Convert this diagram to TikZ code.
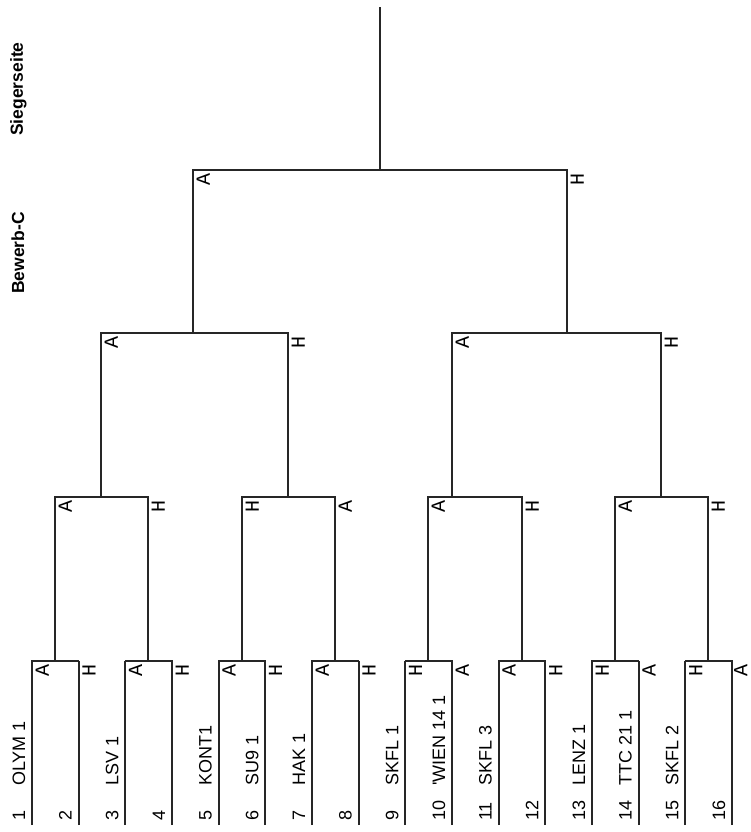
\documentclass[tikz,border=0pt]{standalone}
\usepackage{fontspec}
\setmainfont{Liberation Sans}
\newfontfamily\sidefam{Liberation Mono}
\begin{document}
\begin{tikzpicture}[x=1pt,y=-1pt,
	leg/.style={draw=black!85,line width=2.2pt},
	bar/.style={draw=black!85,line width=1.3pt,line cap=rect},
	side/.style={rotate=90,anchor=north east,inner sep=0pt,font=\sidefam\fontsize{20}{22}\selectfont},
	team/.style={rotate=90,anchor=base west,inner sep=0pt,font=\fontsize{18}{20}\selectfont},
	title/.style={rotate=90,anchor=base west,inner sep=0pt,font=\bfseries\fontsize{17.5}{20}\selectfont}]
	\useasboundingbox (0,0) rectangle (750,832);
	\node[title] (sieg) at (23,136) {Siegerseite};
	\node[title] (bew) at (24,294) {Bewerb-C};
	\foreach \i/\s/\d in {1/A/3.5,2/H/3.5,3/A/3.5,4/H/3.5,5/A/3.5,6/H/3.5,7/A/3.5,8/H/3.5,9/H/3.5,10/A/3.5,11/A/3.5,12/H/3.5,13/H/3.5,14/A/3.5,15/H/3.5,16/A/2} {
		\pgfmathsetmacro\xl{32+46.67*(\i-1)}
		\coordinate (p\i) at (\xl,825);
		\coordinate (q\i) at (\xl,661);
		\draw[leg] (p\i) -- (q\i);
		\node[side] (s\i) at ([shift={(\d,3.5)}]q\i) {\s};
		\node[team] (n\i) at ([shift={(-7,-4)}]p\i) {\i};
	}
	\foreach \a/\b in {1/2,3/4,5/6,7/8,9/10,11/12,13/14,15/16} \draw[bar] (q\a) -- (q\b);
	\foreach \i/\t in {1/OLYM 1,3/LSV 1,5/KONT1,6/SU9 1,7/HAK 1,9/SKFL 1,10/\textquotesingle WIEN 14 1,11/SKFL 3,13/LENZ 1,14/TTC 21 1,15/SKFL 2}
		\node[team] (m\i) at ([shift={(-7,-39)}]p\i) {\t};
	\foreach \x/\s [count=\k] in {55/A,148/H,242/H,335/A,428/A,522/H,615/A,708/H} {
		\coordinate (r\k) at (\x,661);
		\coordinate (t\k) at (\x,497);
		\draw[leg] (r\k) -- (t\k);
		\node[side] (u\k) at ([shift={(3.5,3.5)}]t\k) {\s};
	}
	\foreach \a/\b in {1/2,3/4,5/6,7/8} \draw[bar] (t\a) -- (t\b);
	\foreach \x/\s [count=\k] in {101/A,288/H,452/A,661/H} {
		\coordinate (v\k) at (\x,497);
		\coordinate (w\k) at (\x,333);
		\draw[leg] (v\k) -- (w\k);
		\node[side] (z\k) at ([shift={(3.5,3.5)}]w\k) {\s};
	}
	\foreach \a/\b in {1/2,3/4} \draw[bar] (w\a) -- (w\b);
	\foreach \x/\s [count=\k] in {193/A,567/H} {
		\coordinate (f\k) at (\x,333);
		\coordinate (g\k) at (\x,170);
		\draw[leg] (f\k) -- (g\k);
		\node[side] (h\k) at ([shift={(3.5,3.5)}]g\k) {\s};
	}
	\draw[bar] (g1) -- (g2);
	\coordinate (win) at (380,170);
	\coordinate (top) at (380,7);
	\draw[leg] (win) -- (top);
\end{tikzpicture}
\end{document}
